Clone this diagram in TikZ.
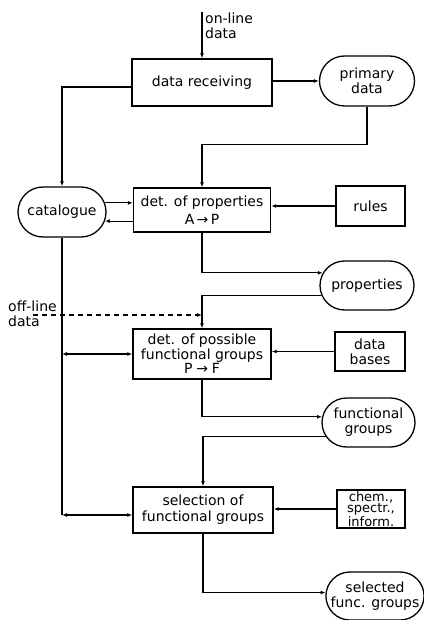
\documentclass[tikz,border=0pt]{standalone}
\usepackage{fontspec}
\setmainfont{DejaVu Sans}
\usetikzlibrary{shapes.misc,arrows.meta}
\begin{document}
\begin{tikzpicture}[x=1pt,y=-1pt,
  every node/.style={font=\fontsize{14}{15}\selectfont, align=center, inner sep=0pt},
  procbox/.style={draw, line width=1.4pt, rectangle},
  store/.style={draw, line width=1.3pt, rounded rectangle},
  link/.style={line width=1.2pt},
  flow/.style={link, -{Latex[length=5pt,width=4pt]}},
  both/.style={link, {Latex[length=5pt,width=4pt]}-{Latex[length=5pt,width=4pt]}},
  offflow/.style={flow, dash pattern=on 5pt off 4pt},
]
\path[use as bounding box] (0,0) rectangle (423,620);

% processing steps (boxes) and data stores (rounded)
\node[procbox, minimum width=140pt, minimum height=47pt] (recv) at (202,82.5) {data receiving};
\node[store, minimum width=95pt, minimum height=50pt] (primary) at (367,81) {primary\\data};
\node[store, minimum width=88pt, minimum height=50pt] (catalogue) at (62,212) {catalogue};
\node[procbox, minimum width=137pt, minimum height=44pt] (detP) at (202,210) {det. of properties\\[3pt]A\,→\,P};
\node[procbox, minimum width=69pt, minimum height=40pt] (rules) at (370.5,206) {rules};
\node[store, minimum width=94pt, minimum height=49pt] (props) at (367,285.5) {properties};
\node[procbox, minimum width=138pt, minimum height=50pt, font=\fontsize{14}{12.5}\selectfont] (detF) at (202,354) {det. of possible\\functional groups\\P\;→\;F};
\node[procbox, minimum width=70pt, minimum height=39pt] (bases) at (370,351.5) {data\\bases};
\node[store, minimum width=93pt, minimum height=49pt] (fgroups) at (368.5,422.5) {functional\\groups};
\node[procbox, minimum width=140pt, minimum height=46pt, font=\fontsize{14}{16}\selectfont] (sel) at (203,510) {selection of\\functional groups};
\node[procbox, minimum width=68pt, minimum height=38pt, font=\fontsize{13}{11.5}\selectfont] (chem) at (371,509) {chem.,\\spectr.,\\inform.};
\node[store, minimum width=94pt, minimum height=48pt] (selected) at (375,596) {selected\\func. groups};

% external inputs
\node[anchor=north west, align=left] (onlinetxt) at (205,13) {on-line\\data};
\node[anchor=north west, align=left] (offlinetxt) at (8,301) {off-line\\data};
\coordinate (online) at (202,12);
\coordinate (offline) at (33,315);

% main flow
\draw[flow] (online) -- (recv.north);
\draw[flow] (primary.west -| recv.east) -- (primary.west);
\draw[flow] (primary.south) -- ++(0,38) -| (detP.north);
\draw[flow] (detP.south) |- (props.164);
\draw[flow] (props.192) -| (detF.north);
\draw[flow] (detF.south) |- (fgroups.173);
\draw[flow] (fgroups.198) -| (sel.north);
\draw[flow] (sel.south) |- (selected.176);
\draw[offflow] (offline) -- (offline -| detF.north);

% knowledge inputs
\draw[flow] (rules.west) -- (rules.west -| detP.east);
\draw[flow] (bases.west) -- (bases.west -| detF.east);
\draw[flow] (chem.west) -- (chem.west -| sel.east);

% catalogue links
\draw[flow] ([yshift=-4.5pt]recv.west) -| (catalogue.north);
\draw[flow] (catalogue.12) -- (catalogue.12 -| detP.west);
\draw[flow] (catalogue.348 -| detP.west) -- (catalogue.348);
\coordinate (selin) at ([yshift=-5pt]sel.west);
\draw[link] (catalogue.south) -- (catalogue.south |- selin);
\draw[both] (catalogue.south |- detF.west) -- (detF.west);
\draw[both] (catalogue.south |- selin) -- (selin);
\end{tikzpicture}
\end{document}
